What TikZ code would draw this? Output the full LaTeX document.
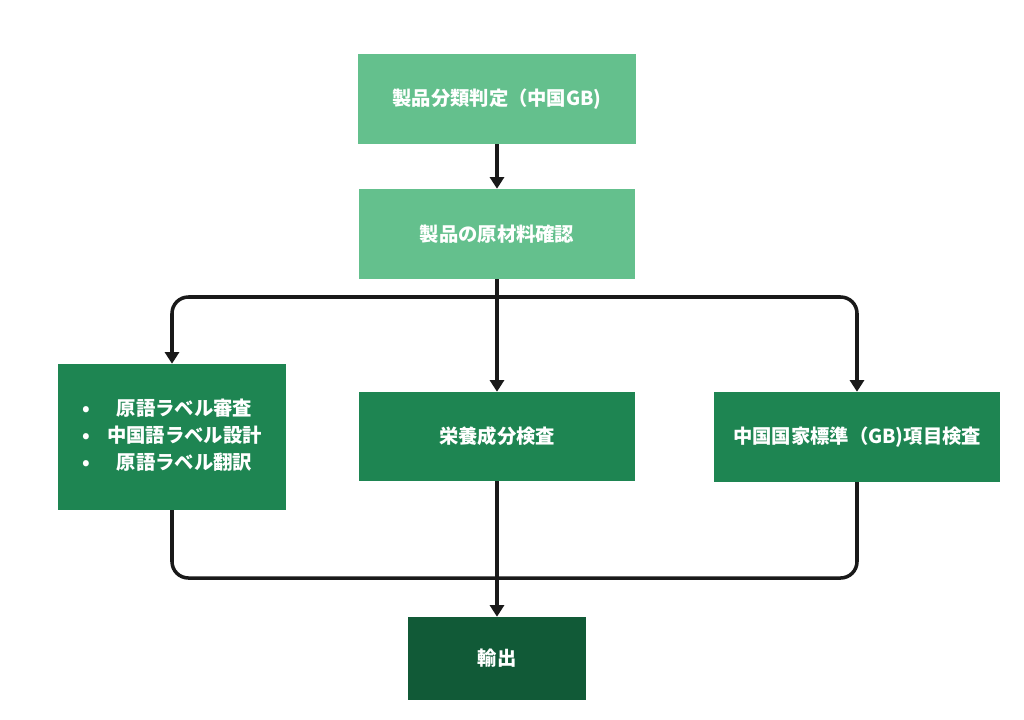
\documentclass[tikz,border=0pt]{standalone}
\usepackage{fontspec}
\setmainfont{Noto Sans CJK JP}
\usepackage{tikz}
\usetikzlibrary{arrows.meta}
\usetikzlibrary{calc,positioning}

\definecolor{lightgreen}{HTML}{64C08D}
\definecolor{midgreen}{HTML}{1E8552}
\definecolor{darkgreen}{HTML}{115A37}

\tikzset{
  box/.style={rectangle, draw=none, inner sep=0pt, text=white, align=center,
    font=\fontsize{16.5}{20}\selectfont\bfseries},
  flow/.style={line width=3pt, draw=black!90, rounded corners=14pt},
}

\begin{document}
\begin{tikzpicture}[>={Triangle[width=12pt,length=10pt]}, x=0.03cm, y=-0.03cm]

    \useasboundingbox (0,0) rectangle (1024,720);

    \node[box, fill=lightgreen, minimum width=8.34cm, minimum height=2.7cm] (cls) at (497,99) {製品分類判定（中国GB)};
    \node[box, fill=lightgreen, minimum width=8.28cm, minimum height=2.7cm] (mat) at (497,234) {製品の原材料確認};

    \node[box, fill=midgreen, minimum width=6.84cm, minimum height=4.38cm] (lbl) at (172,437)
      {\renewcommand{\arraystretch}{1.15}%
       \begin{tabular}{@{}c@{\hspace{15pt}}c@{}}
         \textbullet & 原語ラベル審査\\
         \textbullet & 中国語ラベル設計\\
         \textbullet & 原語ラベル翻訳
       \end{tabular}};
    \node[box, fill=midgreen, minimum width=8.28cm, minimum height=2.67cm] (nut) at (497,436.5) {栄養成分検査};
    \node[box, fill=midgreen, minimum width=8.55cm, minimum height=2.7cm] (gb) at (857,437) {中国国家標準（GB)項目検査};

    \node[box, fill=darkgreen, minimum width=5.31cm, minimum height=2.49cm] (exp) at (497,658.5) {輸出};

    \coordinate (split) at (497,297);
    \coordinate (join) at (497,578);

    \draw[flow, ->] (cls) -- (mat);

    \draw[flow] (mat) -- (split);
    \draw[flow, ->] (split) -| (lbl.north);
    \draw[flow, ->] (split) -- (nut.north);
    \draw[flow, ->] (split) -| (gb.north);

    \draw[flow] (lbl.south) |- (join);
    \draw[flow] (gb.south) |- (join);
    \draw[flow, ->] (nut) -- (exp);

\end{tikzpicture}
\end{document}
